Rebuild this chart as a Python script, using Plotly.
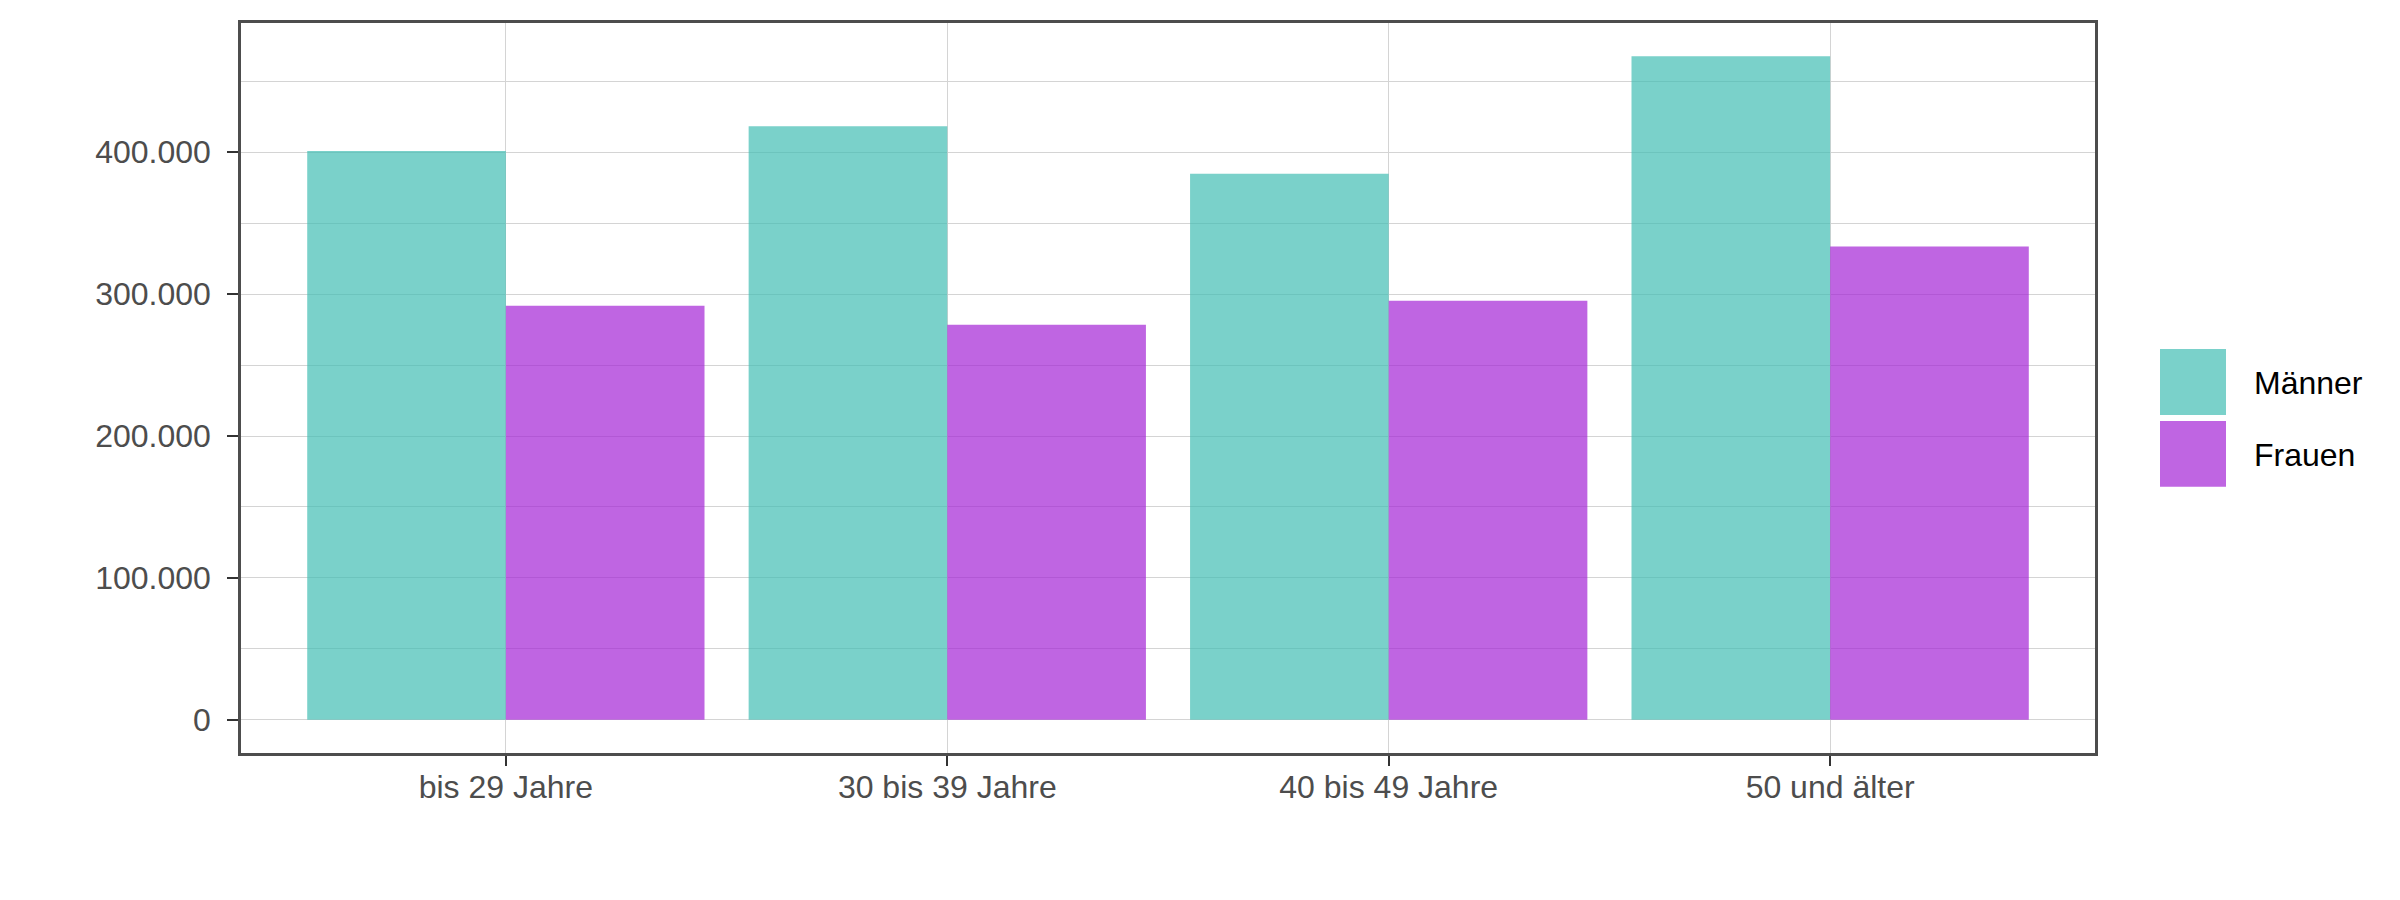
import plotly.graph_objects as go

# Altersgruppen und Werte
groups = ["bis 29 Jahre", "30 bis 39 Jahre", "40 bis 49 Jahre", "50 und älter"]
maenner = [400900, 418400, 384800, 467700]
frauen = [291800, 278500, 295300, 333500]
series_names = ["Männer", "Frauen"]

COLORS = {"Männer": "rgb(65,189,179)", "Frauen": "rgb(164,36,214)"}
BAR_ALPHA = 0.7
FONT = "Liberation Sans, Arial, sans-serif"
GRID = "#d4d4d4"
FRAME = "#4d4d4d"

# page body has an 8px margin, so the figure is a bit smaller than the window
OFF = 8
W, H = 2400 - 2 * OFF, 900 - 2 * OFF
PLOT_L, PLOT_R, PLOT_T, PLOT_B = 241, 2095, 21, 753   # panel in window pixels
L, T = PLOT_L - OFF, PLOT_T - OFF
R, B = W + OFF - PLOT_R, H + OFF - PLOT_B


def px_x(px):
    return (px - PLOT_L) / (PLOT_R - PLOT_L)


def px_y(py):
    return (PLOT_B - py) / (PLOT_B - PLOT_T)


fig = go.Figure()
for name, vals in zip(series_names, [maenner, frauen]):
    fig.add_trace(go.Bar(
        x=groups, y=vals, name=name,
        marker=dict(color=COLORS[name], opacity=BAR_ALPHA, line=dict(width=0)),
        showlegend=False,
    ))

ymax = max(maenner + frauen)
pad = 0.05 * ymax

# legend drawn by hand so the keys get the big ggplot-like squares
key_tops = [348, 420]
shapes, annos = [], []
for name, top in zip(series_names, key_tops):
    shapes.append(dict(
        type="rect", xref="paper", yref="paper",
        x0=px_x(2160), x1=px_x(2226), y0=px_y(top + 66), y1=px_y(top),
        fillcolor=COLORS[name], opacity=BAR_ALPHA, line=dict(width=0),
    ))
    annos.append(dict(
        text=name, xref="paper", yref="paper", x=px_x(2252), y=px_y(top + 34),
        xanchor="left", yanchor="middle", showarrow=False,
        font=dict(family=FONT, size=32, color="black"),
    ))

fig.update_layout(
    width=W, height=H,
    margin=dict(l=L, r=R, t=T, b=B),
    paper_bgcolor="white", plot_bgcolor="white",
    barmode="group", bargap=0.1, bargroupgap=0,
    separators=",.",
    font=dict(family=FONT, size=32, color="#4d4d4d"),
    shapes=shapes, annotations=annos,
)
fig.update_xaxes(
    range=[-0.6, 3.6],
    showgrid=True, gridcolor=GRID, gridwidth=1,
    showline=True, mirror=True, linecolor=FRAME, linewidth=2.5,
    ticks="outside", ticklen=10, tickwidth=1.5, tickcolor="#333333",
    ticklabelstandoff=-6,
    tickfont=dict(family=FONT, size=32, color="#4d4d4d"),
)
fig.update_yaxes(
    range=[-pad, ymax + pad],
    dtick=100000, tick0=0, tickformat=",d",
    showgrid=True, gridcolor=GRID, gridwidth=1, zeroline=False,
    minor=dict(dtick=50000, tick0=0, showgrid=True, gridcolor=GRID, gridwidth=1),
    showline=True, mirror=True, linecolor=FRAME, linewidth=2.5,
    ticks="outside", ticklen=11, tickwidth=1.5, tickcolor="#333333",
    ticklabelstandoff=10,
    tickfont=dict(family=FONT, size=32, color="#4d4d4d"),
)

fig.write_html("out.html")
